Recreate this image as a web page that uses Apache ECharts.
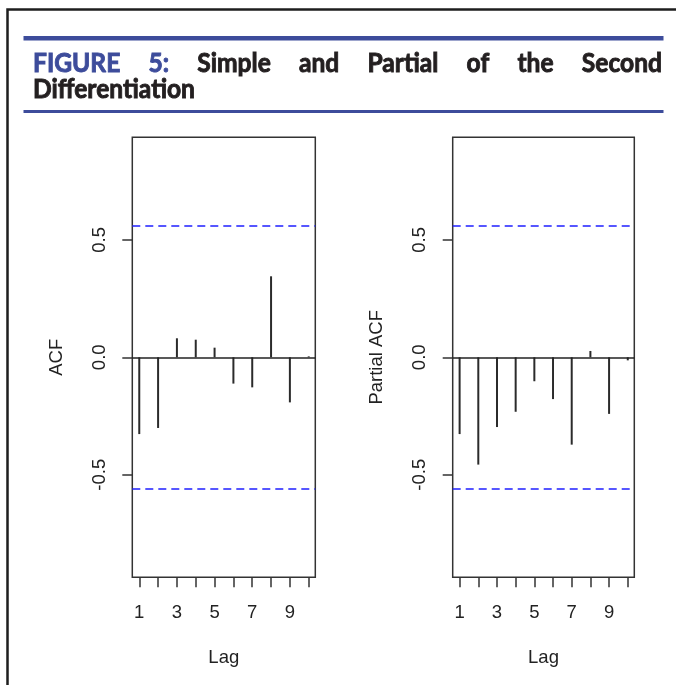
<!DOCTYPE html>
<html><head><meta charset="utf-8">
<script src="https://cdn.jsdelivr.net/npm/echarts@6/dist/echarts.min.js"></script>
<style>html,body{margin:0;padding:0;background:#fff}#c{width:676px;height:685px}</style>
</head><body><div id="c"></div>
<script>
// ---- data ----
const lags = [1, 2, 3, 4, 5, 6, 7, 8, 9, 10];
const acfValues = [-0.327, -0.301, 0.081, 0.075, 0.041, -0.112, -0.128, 0.345, -0.192, 0.004];
const pacfValues = [-0.327, -0.457, -0.297, -0.232, -0.102, -0.178, -0.372, 0.027, -0.241, -0.013];
const ciBound = 0.565;
const xTickLabels = [1, 3, 5, 7, 9];
const yTickValues = [-0.5, 0, 0.5];
const panelNames = ['ACF', 'Partial ACF'];
const xName = 'Lag';
const titleLine1 = ['FIGURE', '5:', 'Simple', 'and', 'Partial', 'of', 'the', 'Second'];
const titleLine1Blue = 2; // first two words in blue
const titleLine2 = 'Differentiation';

// ---- style ----
const BLUE = '#3d4c9b';
const INK = '#231f20';
const RFONT = '"Liberation Sans", Arial, sans-serif';
const TFONT = 'bold 26px Lato, "DejaVu Sans Condensed", sans-serif';

const chart = echarts.init(document.getElementById('c'), null, {renderer: 'canvas'});

// horizontally condensed, justified title
const cv = document.createElement('canvas').getContext('2d');
cv.font = TFONT;
const sx = 162 / cv.measureText(titleLine2).width;
const lineLeft = 33, lineRight = 662;
const widths = titleLine1.map(w => cv.measureText(w).width * sx);
const total = widths.reduce((a, b) => a + b, 0);
const gap = (lineRight - lineLeft - total) / (titleLine1.length - 1);
const graphics = [];
function titleText(text, x, y, color) {
  return {type: 'text', x: x, y: y, scaleX: sx, silent: true,
    style: {text: text, font: TFONT, fill: color, stroke: color, lineWidth: 0.9,
      verticalAlign: 'middle', align: 'left'}};
}
let cx = lineLeft;
titleLine1.forEach((w, i) => {
  graphics.push(titleText(w, cx, 64, i < titleLine1Blue ? BLUE : INK));
  cx += widths[i] + gap;
});
graphics.push(titleText(titleLine2, lineLeft, 90, INK));
// rules
graphics.push({type: 'rect', silent: true, shape: {x: 23.5, y: 36, width: 640, height: 4.5}, style: {fill: BLUE}});
graphics.push({type: 'rect', silent: true, shape: {x: 23.5, y: 110, width: 640, height: 3}, style: {fill: BLUE}});
// frame
graphics.push({type: 'polyline', silent: true, shape: {points: [[7.5, 690], [7.5, 9.5], [690, 9.5]]},
  style: {stroke: '#1e1e1e', lineWidth: 2.5, fill: null}});

const grids = [
  {left: 132.3, top: 137.3, width: 183, height: 440},
  {left: 452.7, top: 137.3, width: 181.6, height: 440}
];

function xAxisFor(i) {
  return {
    gridIndex: i, type: 'value', min: 0.63, max: 10.35, position: 'bottom',
    axisLine: {show: false, onZero: false}, splitLine: {show: false},
    axisTick: {show: true, inside: false, customValues: lags, length: 10, lineStyle: {color: '#333', width: 1.5}},
    axisLabel: {customValues: xTickLabels, fontSize: 18.5, color: '#222', fontFamily: RFONT, margin: 26},
    name: xName, nameLocation: 'middle', nameGap: 71,
    nameTextStyle: {fontSize: 18.5, color: '#222', fontFamily: RFONT}
  };
}
function yAxisFor(i) {
  return {
    gridIndex: i, type: 'value', min: -0.937, max: 0.937, position: 'left',
    axisLine: {show: false, onZero: false}, splitLine: {show: false},
    axisTick: {show: true, inside: false, customValues: yTickValues, length: 10, lineStyle: {color: '#333', width: 1.5}},
    axisLabel: {customValues: yTickValues, rotate: 90, fontSize: 18.5, color: '#222', fontFamily: RFONT, margin: 23,
      formatter: v => Number(v).toFixed(1)},
    name: panelNames[i], nameLocation: 'middle', nameRotate: 90, nameGap: 66,
    nameTextStyle: {fontSize: 18.5, color: '#222', fontFamily: RFONT}
  };
}
function seriesFor(i, vals) {
  return {
    type: 'bar', xAxisIndex: i, yAxisIndex: i, barWidth: 2,
    itemStyle: {color: '#2b2b2b'}, silent: true,
    data: lags.map((l, k) => [l, vals[k]]),
    markLine: {
      silent: true, symbol: ['none', 'none'], label: {show: false}, animation: false,
      data: [
        {yAxis: 0, lineStyle: {color: '#222', type: 'solid', width: 1.5}},
        {yAxis: ciBound, lineStyle: {color: '#1f1fff', type: [8, 5], width: 1.6}},
        {yAxis: -ciBound, lineStyle: {color: '#1f1fff', type: [8, 5], width: 1.6}}
      ]
    }
  };
}

chart.setOption({
  animation: false,
  backgroundColor: '#fff',
  grid: grids.map(g => Object.assign({show: true, borderColor: '#333', borderWidth: 1.5, backgroundColor: 'transparent'}, g)),
  xAxis: [xAxisFor(0), xAxisFor(1)],
  yAxis: [yAxisFor(0), yAxisFor(1)],
  series: [seriesFor(0, acfValues), seriesFor(1, pacfValues)],
  graphic: graphics
});
</script></body></html>
